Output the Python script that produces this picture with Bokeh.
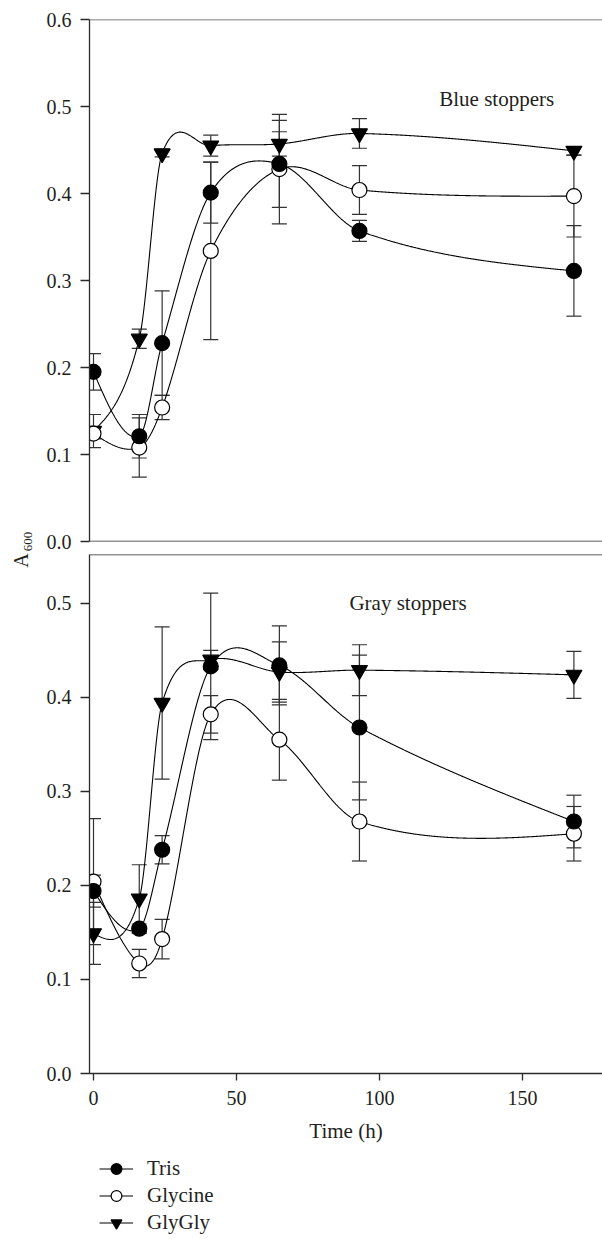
import numpy as np
from bokeh.plotting import figure
from bokeh.models import (ColumnDataSource, Whisker, TeeHead, Label, Legend, LegendItem,
                          Range1d, FixedTicker, Span, PrintfTickFormatter)
from bokeh.layouts import column, row
from bokeh.embed import file_html
from bokeh.resources import INLINE

# ---------------- data ----------------
time_h = [0, 16, 24, 41, 65, 93, 168]
x_ticks = [0, 50, 100, 150]

# Blue stoppers
blue_tris = [0.195, 0.121, 0.228, 0.401, 0.434, 0.357, 0.311]
blue_tris_sd = [0.021, 0.025, 0.060, 0.035, 0.050, 0.012, 0.052]
blue_glycine = [0.124, 0.108, 0.154, 0.334, 0.428, 0.404, 0.397]
blue_glycine_sd = [0.006, 0.034, 0.014, 0.102, 0.063, 0.028, 0.047]
blue_glygly = [0.127, 0.233, 0.446, 0.455, 0.457, 0.469, 0.449]
blue_glygly_sd = [0.019, 0.011, 0.004, 0.012, 0.014, 0.017, 0.005]

# Gray stoppers
gray_tris = [0.194, 0.154, 0.238, 0.433, 0.434, 0.368, 0.268]
gray_tris_sd = [0.017, 0.005, 0.015, 0.078, 0.042, 0.077, 0.028]
gray_glycine = [0.204, 0.117, 0.143, 0.382, 0.355, 0.268, 0.255]
gray_glycine_sd = [0.067, 0.015, 0.021, 0.020, 0.043, 0.042, 0.029]
gray_glygly = [0.149, 0.186, 0.394, 0.440, 0.427, 0.429, 0.424]
gray_glygly_sd = [0.033, 0.036, 0.081, 0.010, 0.032, 0.027, 0.025]

series_names = ["Tris", "Glycine", "GlyGly"]
top_ticks = [0.0, 0.1, 0.2, 0.3, 0.4, 0.5, 0.6]
bottom_ticks = [0.0, 0.1, 0.2, 0.3, 0.4, 0.5]

FONT = "Liberation Serif"
TXT = "#231f20"
AX = "#2b2b2b"

MARKERS = {"Tris": ("circle", "black", 15),
           "Glycine": ("circle", "white", 15),
           "GlyGly": ("inverted_triangle", "black", 16)}

STRIP = 36          # width of the strip that holds the y-axis title
W = 602 - STRIP     # width of the panels


def smooth_curve(x, y, n=600):
    """Cubic Hermite curve through the points (centred-difference tangents,
    natural end conditions) - only the drawing of the connecting line."""
    x = np.asarray(x, float)
    y = np.asarray(y, float)
    k = len(x)
    m = np.zeros(k)
    for i in range(1, k - 1):
        m[i] = (y[i + 1] - y[i - 1]) / (x[i + 1] - x[i - 1])
    d0 = (y[1] - y[0]) / (x[1] - x[0])
    dn = (y[-1] - y[-2]) / (x[-1] - x[-2])
    m[0] = (3 * d0 - m[1]) / 2
    m[-1] = (3 * dn - m[-2]) / 2
    xs = np.linspace(x[0], x[-1], n)
    idx = np.clip(np.searchsorted(x, xs, side="right") - 1, 0, k - 2)
    h = x[idx + 1] - x[idx]
    t = (xs - x[idx]) / h
    h00 = 2 * t ** 3 - 3 * t ** 2 + 1
    h10 = t ** 3 - 2 * t ** 2 + t
    h01 = -2 * t ** 3 + 3 * t ** 2
    h11 = t ** 3 - t ** 2
    ys = h00 * y[idx] + h10 * h * m[idx] + h01 * y[idx + 1] + h11 * h * m[idx + 1]
    return xs, ys


def style_panel(p, ticks):
    p.outline_line_color = None
    p.grid.visible = False
    p.yaxis.ticker = FixedTicker(ticks=ticks)
    p.yaxis.formatter = PrintfTickFormatter(format="%.1f")
    p.yaxis.major_tick_out = 9
    p.yaxis.major_tick_in = 0
    p.yaxis.minor_tick_line_color = None
    p.yaxis.axis_line_color = AX
    p.yaxis.axis_line_width = 1.3
    p.yaxis.major_tick_line_color = AX
    p.yaxis.major_tick_line_width = 1.3
    p.yaxis.major_label_text_font = FONT
    p.yaxis.major_label_text_font_size = "20px"
    p.yaxis.major_label_text_color = TXT
    p.yaxis.major_label_standoff = 9


def draw_series(p, vals, sds):
    src = ColumnDataSource(dict(
        x=time_h, y=vals,
        upper=[v + s for v, s in zip(vals, sds)],
        lower=[v - s for v, s in zip(vals, sds)]))
    w = Whisker(source=src, base="x", upper="upper", lower="lower",
                line_color="#333333", line_width=1.2, level="underlay",
                upper_head=TeeHead(size=15, line_color="#333333", line_width=1.2),
                lower_head=TeeHead(size=15, line_color="#333333", line_width=1.2))
    p.add_layout(w)
    xs, ys = smooth_curve(time_h, vals)
    p.line(xs, ys, line_color="black", line_width=1.1)
    return src


def draw_markers(p, src, name):
    mk, fill, size = MARKERS[name]
    return p.scatter("x", "y", source=src, marker=mk, size=size,
                     fill_color=fill, line_color="black", line_width=1.2)


def panel_series(p, tris, tris_sd, gly, gly_sd, gg, gg_sd):
    s_gg = draw_series(p, gg, gg_sd)
    s_gly = draw_series(p, gly, gly_sd)
    s_tris = draw_series(p, tris, tris_sd)
    draw_markers(p, s_gg, "GlyGly")
    draw_markers(p, s_gly, "Glycine")
    draw_markers(p, s_tris, "Tris")


X0, X1 = -1.4, 178

# ---------------- top panel (Blue stoppers) ----------------
top = figure(width=W, height=553, x_range=Range1d(X0, X1), y_range=Range1d(0, 0.6),
             output_backend="svg", toolbar_location=None,
             min_border_left=89 - STRIP, min_border_right=0, min_border_top=19,
             min_border_bottom=12)
style_panel(top, top_ticks)
top.xaxis.visible = False
top.add_layout(Span(location=0.6, dimension="width", line_color="#555555", line_width=1.5))
top.add_layout(Span(location=0.0, dimension="width", line_color=AX, line_width=1.3))

panel_series(top, blue_tris, blue_tris_sd, blue_glycine, blue_glycine_sd,
             blue_glygly, blue_glygly_sd)

top.add_layout(Label(x=141, y=0.509, text="Blue stoppers", text_align="center",
                     text_baseline="middle", text_font=FONT, text_font_size="21px",
                     text_color=TXT))

# ---------------- bottom panel (Gray stoppers) ----------------
bot = figure(width=W, height=592, x_range=Range1d(X0, X1), y_range=Range1d(0, 0.552),
             output_backend="svg", toolbar_location=None,
             min_border_left=89 - STRIP, min_border_right=0, min_border_top=1,
             min_border_bottom=71)
style_panel(bot, bottom_ticks)
bot.add_layout(Span(location=0.552, dimension="width", line_color=AX, line_width=1.3))
bot.xaxis.ticker = FixedTicker(ticks=x_ticks)
bot.xaxis.major_tick_out = 7
bot.xaxis.major_tick_in = 0
bot.xaxis.minor_tick_line_color = None
bot.xaxis.axis_line_color = AX
bot.xaxis.axis_line_width = 1.3
bot.xaxis.major_tick_line_color = AX
bot.xaxis.major_tick_line_width = 1.3
bot.xaxis.major_label_text_font = FONT
bot.xaxis.major_label_text_font_size = "20px"
bot.xaxis.major_label_text_color = TXT
bot.xaxis.major_label_standoff = 10
bot.xaxis.axis_label = "Time (h)"
bot.xaxis.axis_label_text_font = FONT
bot.xaxis.axis_label_text_font_size = "21px"
bot.xaxis.axis_label_text_font_style = "normal"
bot.xaxis.axis_label_text_color = TXT
bot.xaxis.axis_label_standoff = 11

panel_series(bot, gray_tris, gray_tris_sd, gray_glycine, gray_glycine_sd,
             gray_glygly, gray_glygly_sd)

bot.add_layout(Label(x=110, y=0.50, text="Gray stoppers", text_align="center",
                     text_baseline="middle", text_font=FONT, text_font_size="21px",
                     text_color=TXT))

# ---------------- legend strip ----------------
leg = figure(width=W, height=92, x_range=Range1d(-3, -2), y_range=Range1d(-3, -2),
             output_backend="svg", toolbar_location=None,
             x_axis_location=None, y_axis_location=None,
             min_border_left=70 - STRIP, min_border_right=0, min_border_top=0,
             min_border_bottom=0)
leg.outline_line_color = None
leg.grid.visible = False
items = []
for name, vals in zip(series_names, [gray_tris, gray_glycine, gray_glygly]):
    mk, fill, size = MARKERS[name]
    ln = leg.line(time_h, vals, line_color="black", line_width=1.1)
    sc = leg.scatter(time_h, vals, marker=mk, size=size,
                     fill_color=fill, line_color="black", line_width=1.2)
    items.append(LegendItem(label=name, renderers=[ln, sc]))
legend = Legend(items=items, location="top_left", orientation="vertical",
                glyph_width=34, glyph_height=27, label_standoff=14, spacing=0,
                padding=0, margin=10, border_line_alpha=0, background_fill_alpha=0,
                label_text_font=FONT, label_text_font_size="21px", label_text_color=TXT)
leg.add_layout(legend)

# ---------------- strip with the shared y-axis title A600 ----------------
H = 553 + 592 + 92
ttl = figure(width=STRIP, height=H, x_range=Range1d(0, STRIP), y_range=Range1d(H, 0),
             output_backend="svg", toolbar_location=None,
             x_axis_location=None, y_axis_location=None,
             min_border_left=0, min_border_right=0, min_border_top=0, min_border_bottom=0)
ttl.outline_line_color = None
ttl.grid.visible = False
ttl.add_layout(Label(x=20.5, y=560, text="A", angle=np.pi / 2, text_align="center",
                     text_baseline="middle", text_font=FONT, text_font_size="20px",
                     text_color=TXT))
ttl.add_layout(Label(x=27.5, y=541, text="600", angle=np.pi / 2, text_align="center",
                     text_baseline="middle", text_font=FONT, text_font_size="13px",
                     text_color=TXT))

layout = row(ttl, column(top, bot, leg, spacing=0), spacing=0)
open("out.html", "w").write(file_html(layout, INLINE))
